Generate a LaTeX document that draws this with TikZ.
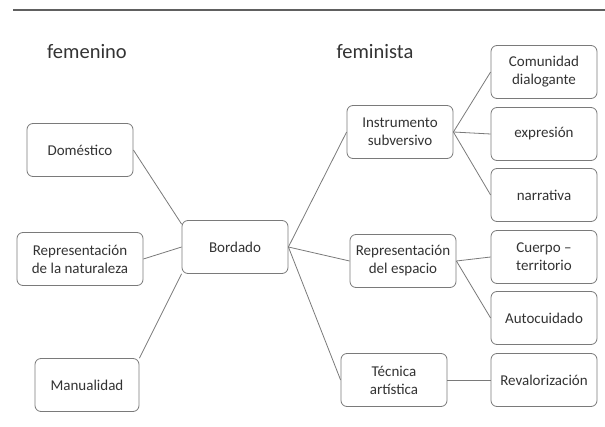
\documentclass[tikz,border=0pt]{standalone}
\usepackage{fontspec}
\setmainfont{Carlito}
\usepackage{xcolor}
\definecolor{boxline}{HTML}{7A7A7A}
\definecolor{txt}{HTML}{333333}
\tikzset{
  topic/.style={draw=boxline, line width=0.8pt, rounded corners=6pt, fill=white,
    minimum width=106pt, minimum height=53pt, inner sep=2pt, align=center,
    text=txt, font=\fontsize{15}{18}\selectfont},
  heading/.style={text=txt, font=\fontsize{20.5}{24}\selectfont},
  link/.style={draw=boxline, line width=0.8pt}
}
\begin{document}
\begin{tikzpicture}[x=1pt, y=-1pt]
            \useasboundingbox (0,0) rectangle (605,427);
            \draw[line width=1.6pt, gray!75!black] (13,10) -- (605,10);
            % headings
            \node[heading] (fem) at (87,52) {femenino};
            \node[heading] (femi) at (375,52) {feminista};
            % left side
            \node[topic] (domes) at (80,150) {Doméstico};
            \node[topic, minimum width=126pt] (natur) at (80,259) {Representación\\de la naturaleza};
            \node[topic, minimum width=104pt] (manual) at (87,385) {Manualidad};
            \node[topic] (bordado) at (235,247) {Bordado};
            % right side
            \node[topic] (instr) at (400,132) {Instrumento\\subversivo};
            \node[topic] (espacio) at (403,261) {Representación\\del espacio};
            \node[topic] (tecnica) at (394,380) {Técnica\\artística};
            \node[topic] (comun) at (544,72) {Comunidad\\dialogante};
            \node[topic] (expr) at (544,134) {expresión};
            \node[topic] (narr) at (544,195) {narrativa};
            \node[topic] (cuerpo) at (544,257) {Cuerpo –\\territorio};
            \node[topic] (autoc) at (544,318) {Autocuidado};
            \node[topic] (reval) at (544,380) {Revalorización};
            % connectors
            \draw[link] (domes.east) -- ([yshift=-4pt]bordado.north west);
            \draw[link] (natur.east) -- (bordado.west);
            \draw[link] (manual.north east) -- (bordado.south west);
            \draw[link] (bordado.east) -- (instr.west);
            \draw[link] (bordado.east) -- (espacio.west);
            \draw[link] (bordado.east) -- (tecnica.west);
            \draw[link] (instr.east) -- (comun.west);
            \draw[link] (instr.east) -- (expr.west);
            \draw[link] (instr.east) -- (narr.west);
            \draw[link] (espacio.east) -- (cuerpo.west);
            \draw[link] (espacio.east) -- (autoc.west);
            \draw[link] (tecnica.east) -- (reval.west);
          \end{tikzpicture}
\end{document}
